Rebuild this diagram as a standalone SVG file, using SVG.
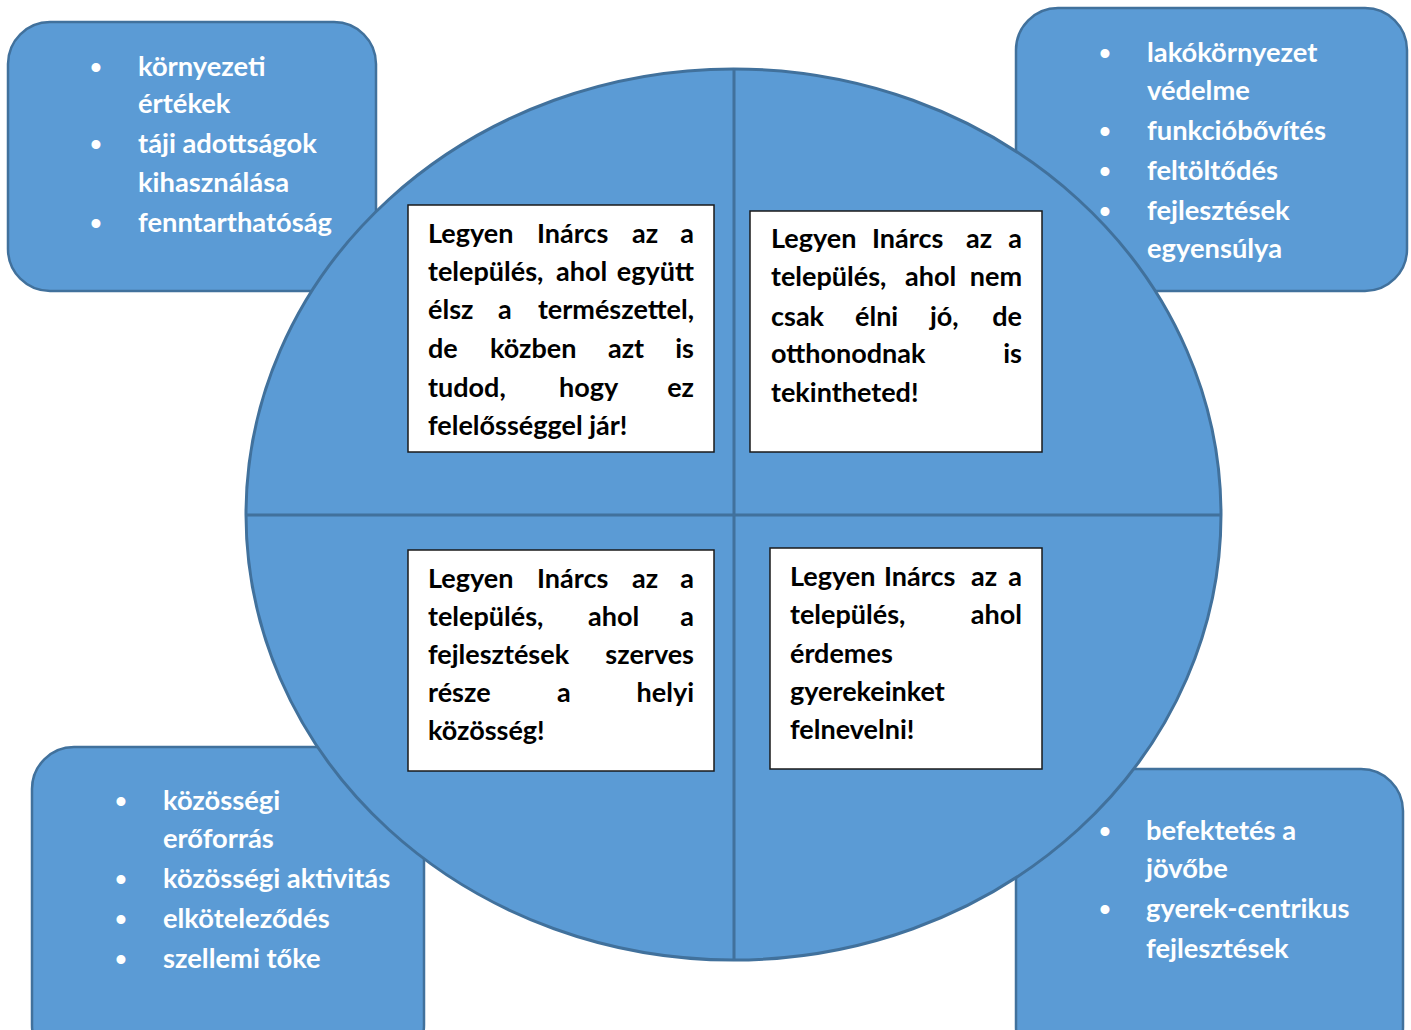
<svg xmlns="http://www.w3.org/2000/svg" width="1411" height="1030" viewBox="0 0 1411 1030">
<style>
.corner{fill:#5B9BD5;stroke:#41719C;stroke-width:2.5}
.ct{font-family:Lato,"Liberation Sans",sans-serif;font-weight:bold;font-size:27.3px;fill:#FFFFFF}
.bul{font-family:"Liberation Sans",sans-serif;font-weight:bold;font-size:31px;fill:#FFFFFF;text-anchor:middle}
.wb{fill:#FFFFFF;stroke:#1a1a1a;stroke-width:1.5}
.wt{font-family:Lato,"Liberation Sans",sans-serif;font-weight:bold;font-size:27px;fill:#000000}
.end{text-anchor:end}
.div{stroke:#41719C;stroke-width:3;fill:none}
</style>
<rect width="1411" height="1030" fill="#FFFFFF"/>
<g id="corner-tl">
<rect class="corner" x="8" y="22" width="368" height="269" rx="42"/>
<text class="bul" x="96" y="78">•</text><text class="ct" x="138" y="76">környezeti</text>
<text class="ct" x="138" y="113">értékek</text>
<text class="bul" x="96" y="155">•</text><text class="ct" x="138" y="153">táji adottságok</text>
<text class="ct" x="138" y="192">kihasználása</text>
<text class="bul" x="96" y="234">•</text><text class="ct" x="138" y="232">fenntarthatóság</text>
</g>
<g id="corner-tr">
<rect class="corner" x="1016" y="8" width="391" height="283" rx="42"/>
<text class="bul" x="1105" y="64">•</text><text class="ct" x="1147" y="62">lakókörnyezet</text>
<text class="ct" x="1147" y="100">védelme</text>
<text class="bul" x="1105" y="142">•</text><text class="ct" x="1147" y="140">funkcióbővítés</text>
<text class="bul" x="1105" y="182">•</text><text class="ct" x="1147" y="180">feltöltődés</text>
<text class="bul" x="1105" y="222">•</text><text class="ct" x="1147" y="220">fejlesztések</text>
<text class="ct" x="1147" y="258">egyensúlya</text>
</g>
<g id="corner-bl">
<rect class="corner" x="32" y="747" width="392" height="320" rx="42"/>
<text class="bul" x="121" y="812">•</text><text class="ct" x="163" y="810">közösségi</text>
<text class="ct" x="163" y="848">erőforrás</text>
<text class="bul" x="121" y="890">•</text><text class="ct" x="163" y="888">közösségi aktivitás</text>
<text class="bul" x="121" y="930">•</text><text class="ct" x="163" y="928">elköteleződés</text>
<text class="bul" x="121" y="970">•</text><text class="ct" x="163" y="968">szellemi tőke</text>
</g>
<g id="corner-br">
<rect class="corner" x="1016" y="769" width="387" height="300" rx="42"/>
<text class="bul" x="1105" y="842">•</text><text class="ct" x="1146" y="840">befektetés a</text>
<text class="ct" x="1146" y="878">jövőbe</text>
<text class="bul" x="1105" y="920">•</text><text class="ct" x="1146" y="918">gyerek-centrikus</text>
<text class="ct" x="1146" y="958">fejlesztések</text>
</g>
<g id="circle">
<ellipse cx="733.5" cy="514.5" rx="487.5" ry="445.5" fill="#5B9BD5" stroke="#41719C" stroke-width="3"/>
</g>
<g id="connectors">
<line class="div" x1="734" y1="69" x2="734" y2="960"/>
<line class="div" x1="246" y1="515" x2="1221" y2="515"/>
</g>
<g id="box-nature">
<rect class="wb" x="408" y="205" width="306" height="247"/>
<text class="wt" x="428" y="243">Legyen</text><text class="wt" x="537" y="243">Inárcs</text><text class="wt" x="632" y="243">az</text><text class="wt end" x="694" y="243">a</text>
<text class="wt" x="428" y="281">település,</text><text class="wt" x="556" y="281">ahol</text><text class="wt end" x="694" y="281">együtt</text>
<text class="wt" x="428" y="319">élsz</text><text class="wt" x="498" y="319">a</text><text class="wt end" x="694" y="319">természettel,</text>
<text class="wt" x="428" y="358">de</text><text class="wt" x="490" y="358">közben</text><text class="wt" x="608" y="358">azt</text><text class="wt end" x="694" y="358">is</text>
<text class="wt" x="428" y="397">tudod,</text><text class="wt" x="559" y="397">hogy</text><text class="wt end" x="694" y="397">ez</text>
<text class="wt" x="428" y="435">felelősséggel jár!</text>
</g>
<g id="box-home">
<rect class="wb" x="750" y="211" width="292" height="241"/>
<text class="wt" x="771" y="248">Legyen</text><text class="wt" x="872" y="248">Inárcs</text><text class="wt" x="966" y="248">az</text><text class="wt end" x="1022" y="248">a</text>
<text class="wt" x="771" y="286">település,</text><text class="wt" x="905" y="286">ahol</text><text class="wt end" x="1022" y="286">nem</text>
<text class="wt" x="771" y="326">csak</text><text class="wt" x="855" y="326">élni</text><text class="wt" x="930" y="326">jó,</text><text class="wt end" x="1022" y="326">de</text>
<text class="wt" x="771" y="363">otthonodnak</text><text class="wt end" x="1022" y="363">is</text>
<text class="wt" x="771" y="402">tekintheted!</text>
</g>
<g id="box-community">
<rect class="wb" x="408" y="550" width="306" height="221"/>
<text class="wt" x="428" y="588">Legyen</text><text class="wt" x="537" y="588">Inárcs</text><text class="wt" x="632" y="588">az</text><text class="wt end" x="694" y="588">a</text>
<text class="wt" x="428" y="626">település,</text><text class="wt" x="588" y="626">ahol</text><text class="wt end" x="694" y="626">a</text>
<text class="wt" x="428" y="664">fejlesztések</text><text class="wt end" x="694" y="664">szerves</text>
<text class="wt" x="428" y="702">része</text><text class="wt" x="557" y="702">a</text><text class="wt end" x="694" y="702">helyi</text>
<text class="wt" x="428" y="740">közösség!</text>
</g>
<g id="box-children">
<rect class="wb" x="770" y="548" width="272" height="221"/>
<text class="wt" x="790" y="586">Legyen</text><text class="wt" x="884" y="586">Inárcs</text><text class="wt" x="971" y="586">az</text><text class="wt end" x="1022" y="586">a</text>
<text class="wt" x="790" y="624">település,</text><text class="wt end" x="1022" y="624">ahol</text>
<text class="wt" x="790" y="663">érdemes</text>
<text class="wt" x="790" y="701">gyerekeinket</text>
<text class="wt" x="790" y="739">felnevelni!</text>
</g>
</svg>
